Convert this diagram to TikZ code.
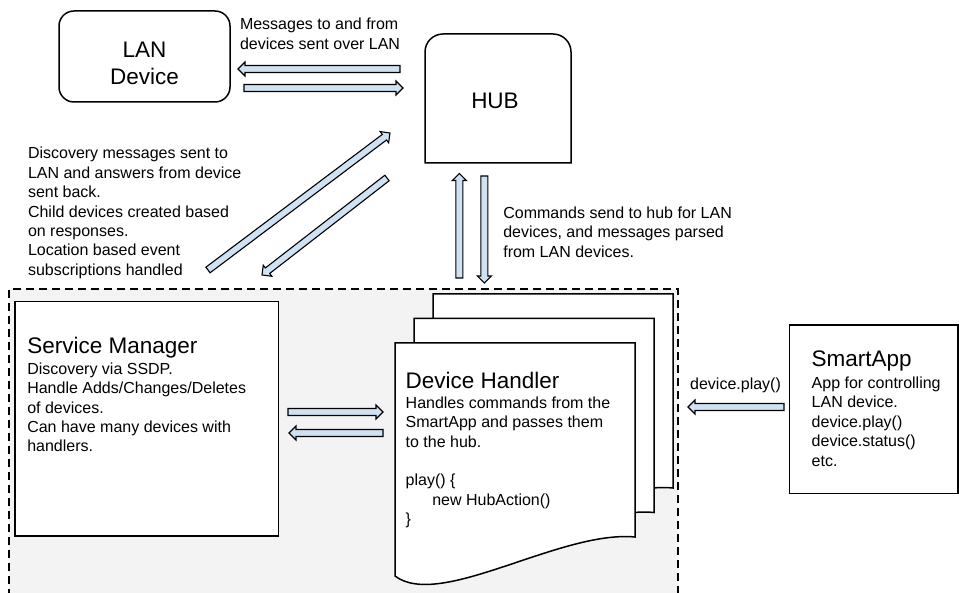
\documentclass[tikz,border=0pt]{standalone}
\usepackage{fontspec}
\setmainfont{Liberation Sans}
\usetikzlibrary{calc}
\definecolor{arrowfill}{HTML}{CFE2F3}
\definecolor{zonefill}{HTML}{F3F3F3}
\tikzset{
  barrow/.style={draw=black, fill=arrowfill, line width=1.1pt, line join=miter},
  box/.style={draw=black, fill=white, line width=1.5pt, inner sep=0pt, outer sep=0pt},
  bodytext/.style={inner sep=0pt, outer sep=0pt, anchor=north west, align=left, font=\fontsize{16pt}{19.4pt}\selectfont},
  titletext/.style={inner sep=0pt, outer sep=0pt, anchor=base west, font=\fontsize{22.5pt}{27pt}\selectfont},
  zoneline/.style={draw=black, line width=1.4pt, dash pattern=on 8pt off 5pt},
  page/.style={draw=black, fill=white, line width=1.5pt, line join=miter},
}
\newcommand\blockarrow[2]{%
  \draw[barrow] ($(#1)!3.5pt!90:(#2)$)
    -- ($(#2)!7pt!(#1)!3.5pt!-90:(#1)$)
    -- ($(#2)!7pt!(#1)!7pt!-90:(#1)$)
    -- (#2)
    -- ($(#2)!7pt!(#1)!7pt!90:(#1)$)
    -- ($(#2)!7pt!(#1)!3.5pt!90:(#1)$)
    -- ($(#1)!3.5pt!-90:(#2)$) -- cycle;}
\newcommand\docpagepath{%
  \draw[page] (395,343) -- (635,343) -- (635,537)
    .. controls (560,530) and (440,610) .. (395,576) -- cycle;}
\begin{document}
\begin{tikzpicture}[x=1pt,y=-1pt]
\useasboundingbox (0,0) rectangle (959,593);
\clip (0,0) rectangle (959,593);
\fill[white] (0,0) rectangle (959,593);

% dashed zone
\fill[zonefill] (9,289) rectangle (678,610);
\draw[zoneline] (9,610) -- (9,289) -- (678,289) -- (678,610);

% LAN device
\node[box, rounded corners=15pt, minimum width=171pt, minimum height=91pt] (lan) at (144.5,56.5) {};
\node[inner sep=0pt, anchor=north, align=center, font=\fontsize{22.5pt}{27pt}\selectfont] (lantext) at (144.5,38.1) {\strut LAN\\Device};

% HUB
\draw[line width=1.5pt] (425,163) -- (425,52) arc[start angle=180, end angle=90, radius=18pt]
  -- (553,34) arc[start angle=90, end angle=0, radius=18pt] -- (571,163) -- cycle;
\node[inner sep=0pt, anchor=base, font=\fontsize{22.5pt}{27pt}\selectfont] (hub) at (495,109) {HUB};

% labels
\node[bodytext] (msglabel) at (240,16.4) {\strut Messages to and from\\devices sent over LAN};
\node[bodytext] (disclabel) at (28,145.4) {\strut Discovery messages sent to\\LAN and answers from device\\sent back.\\Child devices created based\\on responses.\\Location based event\\subscriptions handled};
\node[bodytext] (cmdlabel) at (503.3,204.7) {\strut Commands send to hub for LAN\\devices, and messages parsed\\from LAN devices.};

% Service Manager
\node[box, anchor=north west, minimum width=263.3pt, minimum height=234.3pt] (sm) at (15,301.7) {};
\node[titletext] (smtitle) at (27.3,354) {Service Manager};
\node[bodytext] (smbody) at (27.3,360.7) {\strut Discovery via SSDP.\\Handle Adds/Changes/Deletes\\of devices.\\Can have many devices with\\handlers.};

% Device handler stack
\begin{scope}[shift={(38,-49)}]\docpagepath\end{scope}
\begin{scope}[shift={(19,-24.5)}]\docpagepath\end{scope}
\docpagepath
\node[titletext] (dhtitle) at (405.7,388.3) {Device Handler};
\node[bodytext] (dhbody) at (405.7,394.7) {\strut Handles commands from the\\SmartApp and passes them\\to the hub.\\\strut\\play() \{\\\hspace*{26.6pt}new HubAction()\\\}};

% SmartApp
\node[box, anchor=north west, minimum width=168.7pt, minimum height=168.3pt] (sa) at (789.3,325) {};
\node[titletext] (satitle) at (811.7,366.7) {SmartApp};
\node[bodytext] (sabody) at (811.7,374.9) {\strut App for controlling\\LAN device.\\device.play()\\device.status()\\etc.};
\node[inner sep=0pt, anchor=base west, font=\fontsize{16pt}{19.4pt}\selectfont] (playlabel) at (690,390) {device.play()};

% arrow end points
\coordinate (hlS) at (400,69);   \coordinate (hlE) at (238,69);
\coordinate (lhS) at (244,88);   \coordinate (lhE) at (403,88);
\coordinate (duS) at (208,270);  \coordinate (duE) at (390,133);
\coordinate (ddS) at (387,178);  \coordinate (ddE) at (262,275);
\coordinate (vuS) at (459.3,278); \coordinate (vuE) at (459.3,173.5);
\coordinate (vdS) at (484.3,176); \coordinate (vdE) at (484.3,283);
\coordinate (sdS) at (288,412);  \coordinate (sdE) at (383,412);
\coordinate (dsS) at (383,433);  \coordinate (dsE) at (289,433);
\coordinate (adS) at (784,407);  \coordinate (adE) at (688,407);

\blockarrow{hlS}{hlE}
\blockarrow{lhS}{lhE}
\blockarrow{duS}{duE}
\blockarrow{ddS}{ddE}
\blockarrow{vuS}{vuE}
\blockarrow{vdS}{vdE}
\blockarrow{sdS}{sdE}
\blockarrow{dsS}{dsE}
\blockarrow{adS}{adE}
\end{tikzpicture}
\end{document}
